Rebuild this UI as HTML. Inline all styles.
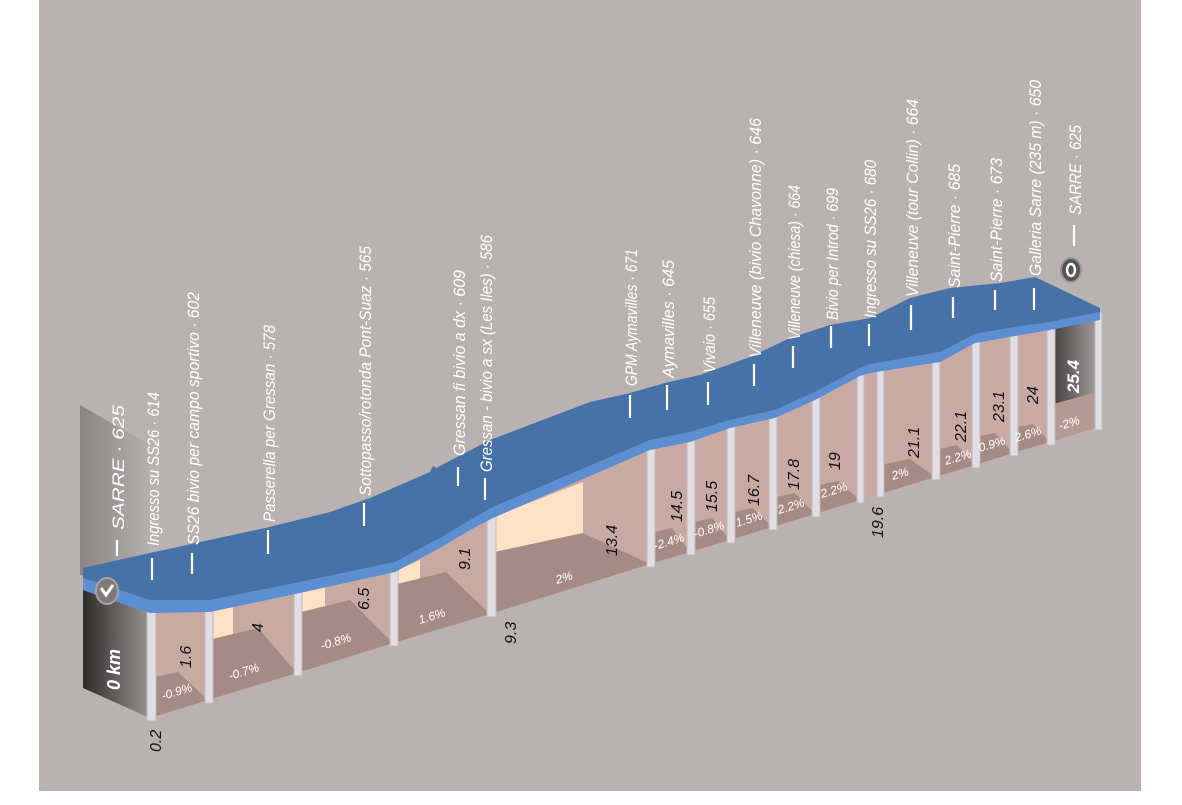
<!DOCTYPE html>
<html><head><meta charset="utf-8"><style>
html,body{margin:0;padding:0;background:#fff;}
svg{display:block;}
.lb{font-family:"Liberation Sans",sans-serif;font-style:italic;font-size:17px;fill:#fff;}
.nm{font-family:"Liberation Sans",sans-serif;font-style:italic;font-size:16px;fill:#111;}
.pc{font-family:"Liberation Sans",sans-serif;font-style:italic;font-size:12px;fill:#fff;}
</style></head><body>
<svg width="1182" height="805" viewBox="0 0 1182 805" xmlns="http://www.w3.org/2000/svg">
<defs>
<linearGradient id="lg" x1="0" x2="1" y1="0" y2="0"><stop offset="0" stop-color="#2e2b2b"/><stop offset="1" stop-color="#9a9494"/></linearGradient>
<linearGradient id="lp" x1="0" x2="1" y1="0" y2="0"><stop offset="0" stop-color="#8a8585"/><stop offset="1" stop-color="#b6b0af"/></linearGradient>
<linearGradient id="eg" x1="0" x2="1" y1="0" y2="0"><stop offset="0" stop-color="#3e3a3a"/><stop offset="1" stop-color="#a49e9e"/></linearGradient>
</defs>
<rect x="0" y="0" width="1182" height="805" fill="#fff"/>
<rect x="39" y="0" width="1102" height="791" fill="#b9b2b1"/>

<polygon points="80,405 150,445 150,575 80,575" fill="url(#lp)"/>
<polygon points="83,590 150,613 150,718 83,688" fill="url(#lg)"/>

<g fill="#c9aaa2">
<polygon points="150,613 208,612 208,700 150,718"/>
<polygon points="208,612 297,593 297,673 208,700"/>
<polygon points="297,593 393,572 393,643 297,673"/>
<polygon points="393,572 490,518 490,614 393,643"/>
<polygon points="490,518 650,450 650,564 490,614"/>
<polygon points="650,450 690,442 690,552 650,564"/>
<polygon points="690,442 730,428 730,540 690,552"/>
<polygon points="730,428 772,418 772,527 730,540"/>
<polygon points="772,418 815,400 815,514 772,527"/>
<polygon points="815,400 860,376 860,500 815,514"/>
<polygon points="860,376 880,372 880,494 860,500"/>
<polygon points="880,372 935,363 935,477 880,494"/>
<polygon points="935,363 975,343 975,465 935,477"/>
<polygon points="975,343 1013,336 1013,453 975,465"/>
<polygon points="1013,336 1050,330 1050,442 1013,453"/>
<polygon points="1050,330 1098,320 1098,427 1050,442"/>
</g>
<g fill="#fde2c5">
<polygon points="208,612 233,607 233,636 208,640"/>
<polygon points="297,593 325,587 325,610 297,613"/>
<polygon points="393,572 420,560 420,582 393,585"/>
<polygon points="490,518 583,482 583,533 490,553"/>
</g>
<polygon points="1050,330 1098,320 1098,392 1050,405" fill="url(#eg)"/>
<g fill="#a68b85">
<polygon points="150,678 178,672 208,700 150,718"/>
<polygon points="208,640 258,628 297,673 208,700"/>
<polygon points="297,613 350,600 393,643 297,673"/>
<polygon points="393,585 446,572 490,614 393,643"/>
<polygon points="490,553 583,533 650,564 490,614"/>
<polygon points="650,533 672,528 690,552 650,564"/>
<polygon points="690,523 712,518 730,540 690,552"/>
<polygon points="730,513 753,508 772,527 730,540"/>
<polygon points="772,498 795,493 815,514 772,527"/>
<polygon points="815,486 838,481 860,500 815,514"/>
<polygon points="880,465 910,459 935,477 880,494"/>
<polygon points="935,450 957,445 975,465 935,477"/>
<polygon points="975,437 995,433 1013,453 975,465"/>
<polygon points="1013,428 1033,424 1050,442 1013,453"/>
<polygon points="1050,405 1098,392 1098,427 1050,442" fill="#b49a93"/>
</g>
<g fill="#e0dee3" stroke="#bdb9bf" stroke-width="1">
<rect x="147" y="605" width="9" height="116"/>
<rect x="205" y="604" width="8" height="99"/>
<rect x="294" y="585" width="8" height="91"/>
<rect x="390" y="564" width="8" height="82"/>
<rect x="487" y="510" width="9" height="107"/>
<rect x="647" y="442" width="8" height="125"/>
<rect x="687" y="434" width="8" height="121"/>
<rect x="727" y="420" width="8" height="123"/>
<rect x="769" y="410" width="8" height="120"/>
<rect x="812" y="392" width="8" height="125"/>
<rect x="857" y="368" width="7" height="135"/>
<rect x="877" y="364" width="7" height="133"/>
<rect x="932" y="355" width="8" height="125"/>
<rect x="972" y="335" width="8" height="133"/>
<rect x="1010" y="328" width="8" height="128"/>
<rect x="1047" y="322" width="8" height="123"/>
<rect x="1095" y="312" width="7" height="118"/>
</g>

<polygon fill="#5b8fd1" points="83,578 150,600 210,600 300,582 395,562 440,538 470,520 493,507 650,440 690,432 730,420 775,410 815,392 860,368 870,364 940,352 975,334 1015,327 1050,322 1100,312 1100,320 1050,330 1015,336 975,343 940,362 870,373 860,376 815,400 775,418 730,428 690,442 650,450 493,518 470,530 440,548 395,572 300,593 210,612 150,613 83,590"/>
<polygon fill="#4772a7" points="83,568 150,553 265,528 330,512 370,498 430,472 433,466 436,468 490,440 590,402 630,393 665,383 700,375 750,357 790,338 830,325 870,318 910,298 950,288 1000,283 1035,277 1100,308 1100,312 1050,322 1015,327 975,334 940,352 870,364 860,368 815,392 775,410 730,420 690,432 650,440 493,507 470,520 440,538 395,562 300,582 210,600 150,600 83,578"/>

<g stroke="#fff" stroke-width="2.2">
<line x1="117" y1="540" x2="117" y2="556"/>
<line x1="152" y1="558" x2="152" y2="580"/>
<line x1="192" y1="553" x2="192" y2="574"/>
<line x1="268" y1="530" x2="268" y2="554"/>
<line x1="364" y1="503" x2="364" y2="526"/>
<line x1="458" y1="467" x2="458" y2="486"/>
<line x1="485" y1="478" x2="485" y2="500"/>
<line x1="630" y1="395" x2="630" y2="418"/>
<line x1="667" y1="385" x2="667" y2="410"/>
<line x1="708" y1="382" x2="708" y2="405"/>
<line x1="754" y1="364" x2="754" y2="386"/>
<line x1="793" y1="346" x2="793" y2="368"/>
<line x1="831" y1="326" x2="831" y2="348"/>
<line x1="869" y1="324" x2="869" y2="346"/>
<line x1="911" y1="305" x2="911" y2="330"/>
<line x1="953" y1="297" x2="953" y2="318"/>
<line x1="995" y1="290" x2="995" y2="310"/>
<line x1="1034" y1="288" x2="1034" y2="310"/>
<line x1="1074" y1="225" x2="1074" y2="246"/>
</g>

<ellipse cx="107" cy="591" rx="11" ry="13" fill="#7e7a7a" stroke="#a7a3a3" stroke-width="2"/>
<path d="M101,588 L106,595 L113,585" fill="none" stroke="#fff" stroke-width="3"/>
<ellipse cx="1071" cy="270" rx="10" ry="12" fill="#555" stroke="#9a9696" stroke-width="2"/>
<ellipse cx="1071" cy="270" rx="4" ry="6" fill="none" stroke="#fff" stroke-width="2.5"/>

<g class="lb">
<text transform="translate(124,530) rotate(-90)" textLength="125" lengthAdjust="spacingAndGlyphs">SARRE · 625</text>
<text transform="translate(159,546) rotate(-90)" textLength="154" lengthAdjust="spacingAndGlyphs">Ingresso su SS26 · 614</text>
<text transform="translate(199,545) rotate(-90)" textLength="253" lengthAdjust="spacingAndGlyphs">SS26 bivio per campo sportivo · 602</text>
<text transform="translate(275,522) rotate(-90)" textLength="197" lengthAdjust="spacingAndGlyphs">Passerella per Gressan · 578</text>
<text transform="translate(371,496) rotate(-90)" textLength="250" lengthAdjust="spacingAndGlyphs">Sottopasso/rotonda Pont-Suaz · 565</text>
<text transform="translate(465,456) rotate(-90)" textLength="186" lengthAdjust="spacingAndGlyphs">Gressan fi bivio a dx · 609</text>
<text transform="translate(492,472) rotate(-90)" textLength="237" lengthAdjust="spacingAndGlyphs">Gressan - bivio a sx (Les Iles) · 586</text>
<text transform="translate(637,386) rotate(-90)" textLength="137" lengthAdjust="spacingAndGlyphs">GPM Aymavilles · 671</text>
<text transform="translate(674,378) rotate(-90)" textLength="118" lengthAdjust="spacingAndGlyphs">Aymavilles · 645</text>
<text transform="translate(715,373) rotate(-90)" textLength="76" lengthAdjust="spacingAndGlyphs">Vivaio · 655</text>
<text transform="translate(761,358) rotate(-90)" textLength="240" lengthAdjust="spacingAndGlyphs">Villeneuve (bivio Chavonne) · 646</text>
<text transform="translate(800,340) rotate(-90)" textLength="155" lengthAdjust="spacingAndGlyphs">Villeneuve (chiesa) · 664</text>
<text transform="translate(838,320) rotate(-90)" textLength="132" lengthAdjust="spacingAndGlyphs">Bivio per Introd · 699</text>
<text transform="translate(876,318) rotate(-90)" textLength="158" lengthAdjust="spacingAndGlyphs">Ingresso su SS26 · 680</text>
<text transform="translate(918,297) rotate(-90)" textLength="198" lengthAdjust="spacingAndGlyphs">Villeneuve (tour Collin) · 664</text>
<text transform="translate(960,288) rotate(-90)" textLength="124" lengthAdjust="spacingAndGlyphs">Saint-Pierre · 685</text>
<text transform="translate(1002,282) rotate(-90)" textLength="124" lengthAdjust="spacingAndGlyphs">Saint-Pierre · 673</text>
<text transform="translate(1041,276) rotate(-90)" textLength="196" lengthAdjust="spacingAndGlyphs">Galleria Sarre (235 m) · 650</text>
<text transform="translate(1081,215) rotate(-90)" textLength="90" lengthAdjust="spacingAndGlyphs">SARRE · 625</text>
</g>

<g class="nm">
<text transform="translate(191,668) rotate(-90)">1.6</text>
<text transform="translate(263,632) rotate(-90)">4</text>
<text transform="translate(369,610) rotate(-90)">6.5</text>
<text transform="translate(470,570) rotate(-90)">9.1</text>
<text transform="translate(617,556) rotate(-90)">13.4</text>
<text transform="translate(682,522) rotate(-90)">14.5</text>
<text transform="translate(717,512) rotate(-90)">15.5</text>
<text transform="translate(759,506) rotate(-90)">16.7</text>
<text transform="translate(799,490) rotate(-90)">17.8</text>
<text transform="translate(840,470) rotate(-90)">19</text>
<text transform="translate(919,458) rotate(-90)">21.1</text>
<text transform="translate(966,442) rotate(-90)">22.1</text>
<text transform="translate(1004,422) rotate(-90)">23.1</text>
<text transform="translate(1038,404) rotate(-90)">24</text>
<text transform="translate(161,752) rotate(-90)">0.2</text>
<text transform="translate(516,644) rotate(-90)">9.3</text>
<text transform="translate(883,538) rotate(-90)">19.6</text>
</g>
<text transform="translate(1079,393) rotate(-90)" font-family="Liberation Sans,sans-serif" font-style="italic" font-weight="bold" font-size="17" fill="#fff">25.4</text>
<text transform="translate(120,690) rotate(-90)" font-family="Liberation Sans,sans-serif" font-style="italic" font-weight="bold" font-size="18" fill="#fff">0 km</text>

<g class="pc">
<text transform="translate(163,700) rotate(-17)">-0.9%</text>
<text transform="translate(230,680) rotate(-17)">-0.7%</text>
<text transform="translate(322,650) rotate(-17)">-0.8%</text>
<text transform="translate(420,624) rotate(-17)">1.6%</text>
<text transform="translate(557,584) rotate(-17)">2%</text>
<text transform="translate(655,550) rotate(-17)">-2.4%</text>
<text transform="translate(695,538) rotate(-17)">-0.8%</text>
<text transform="translate(737,527) rotate(-17)">1.5%</text>
<text transform="translate(779,514) rotate(-17)">2.2%</text>
<text transform="translate(822,498) rotate(-17)">2.2%</text>
<text transform="translate(893,480) rotate(-17)">2%</text>
<text transform="translate(946,465) rotate(-17)">2.2%</text>
<text transform="translate(980,452) rotate(-17)">0.9%</text>
<text transform="translate(1016,442) rotate(-17)">2.6%</text>
<text transform="translate(1060,430) rotate(-17)">-2%</text>
</g>
</svg>
</body></html>
